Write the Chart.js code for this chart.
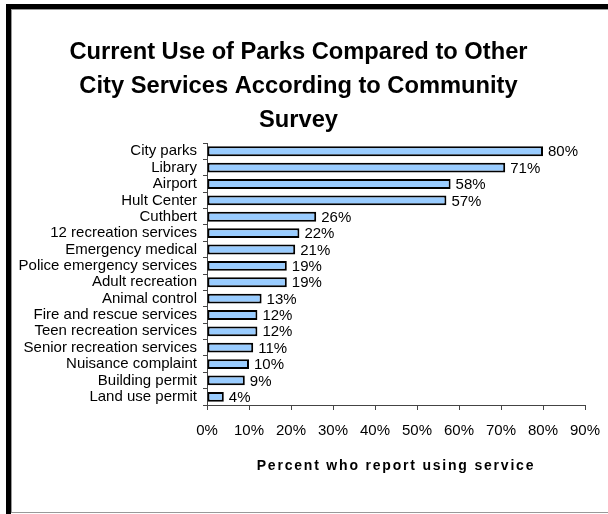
<!DOCTYPE html>
<html>
<head>
<meta charset="utf-8">
<script src="https://cdn.jsdelivr.net/npm/chart.js@4"></script>
<style>
  html, body { margin: 0; padding: 0; background: #fff; }
  #grafico { display: block; }
</style>
</head>
<body>
<canvas id="grafico" width="608" height="514"></canvas>
<script>
const servicios = [
  'City parks', 'Library', 'Airport', 'Hult Center', 'Cuthbert',
  '12 recreation services', 'Emergency medical', 'Police emergency services',
  'Adult recreation', 'Animal control', 'Fire and rescue services',
  'Teen recreation services', 'Senior recreation services',
  'Nuisance complaint', 'Building permit', 'Land use permit'
];
const porcentajes = [80, 71, 58, 57, 26, 22, 21, 19, 19, 13, 12, 12, 11, 10, 9, 4];
const titulo = ['Current Use of Parks Compared to Other', 'City Services According to Community', 'Survey'];
const tituloEje = 'Percent who report using service';

const fuente = "'Liberation Sans', Arial, sans-serif";

// marco negro grueso arriba e izquierda, linea gris abajo
const marco = {
  id: 'marco',
  beforeDraw(chart) {
    const ctx = chart.ctx;
    ctx.save();
    ctx.fillStyle = '#fff';
    ctx.fillRect(0, 0, chart.width, chart.height);
    ctx.fillStyle = '#000';
    ctx.fillRect(6, 4, chart.width - 6, 5);
    ctx.fillRect(6, 4, 5, chart.height - 4);
    ctx.fillStyle = '#999';
    ctx.fillRect(11, 9, chart.width - 11, 1);
    ctx.fillRect(11, 9, 1, chart.height - 11);
    ctx.fillRect(11, 512, chart.width - 11, 1);
    ctx.restore();
  }
};

// etiquetas de porcentaje al final de cada barra
const etiquetas = {
  id: 'etiquetas',
  afterDatasetsDraw(chart) {
    const ctx = chart.ctx;
    const meta = chart.getDatasetMeta(0);
    ctx.save();
    ctx.font = '15px ' + fuente;
    ctx.fillStyle = '#000';
    ctx.textBaseline = 'middle';
    ctx.textAlign = 'left';
    meta.data.forEach((barra, i) => {
      ctx.fillText(porcentajes[i] + '%', barra.x + 5, barra.y + 1);
    });
    ctx.restore();
  }
};

// titulo del eje X con espaciado entre letras
const tituloX = {
  id: 'tituloX',
  afterDraw(chart) {
    const ctx = chart.ctx;
    const area = chart.chartArea;
    ctx.save();
    ctx.font = 'bold 14px ' + fuente;
    ctx.letterSpacing = '1.8px';
    ctx.fillStyle = '#000';
    ctx.textAlign = 'center';
    ctx.textBaseline = 'middle';
    ctx.fillText(tituloEje, (area.left + area.right) / 2, 466);
    ctx.restore();
  }
};

new Chart(document.getElementById('grafico'), {
  type: 'bar',
  data: {
    labels: servicios,
    datasets: [{
      data: porcentajes,
      backgroundColor: '#99CCFF',
      borderColor: '#000',
      borderWidth: 2,
      borderSkipped: false,
      barPercentage: 0.6,
      categoryPercentage: 1
    }]
  },
  plugins: [marco, etiquetas, tituloX],
  options: {
    indexAxis: 'y',
    responsive: false,
    animation: false,
    devicePixelRatio: 1,
    layout: { padding: { top: 16, left: 12, right: 23, bottom: 62 } },
    plugins: {
      legend: { display: false },
      tooltip: { enabled: false },
      title: {
        display: true,
        text: titulo,
        color: '#000',
        font: { family: fuente, size: 23.7, weight: 'bold', lineHeight: 1.45 },
        padding: { top: 19, bottom: 5 }
      }
    },
    scales: {
      x: {
        min: 0,
        max: 90,
        afterFit(scale) { scale.paddingLeft = 0; scale.paddingRight = 0; },
        ticks: {
          stepSize: 10,
          color: '#000',
          padding: 12,
          font: { family: fuente, size: 15 },
          callback: v => v + '%'
        },
        grid: { drawOnChartArea: false, tickLength: 5, color: '#444' },
        border: { color: '#444', width: 1 }
      },
      y: {
        afterFit(scale) { scale.width = 195; },
        ticks: {
          color: '#000',
          padding: 6,
          autoSkip: false,
          font: { family: fuente, size: 15 }
        },
        grid: { drawOnChartArea: false, tickLength: 4, color: '#444', offset: true },
        border: { color: '#444', width: 1 }
      }
    }
  }
});
</script>
</body>
</html>
